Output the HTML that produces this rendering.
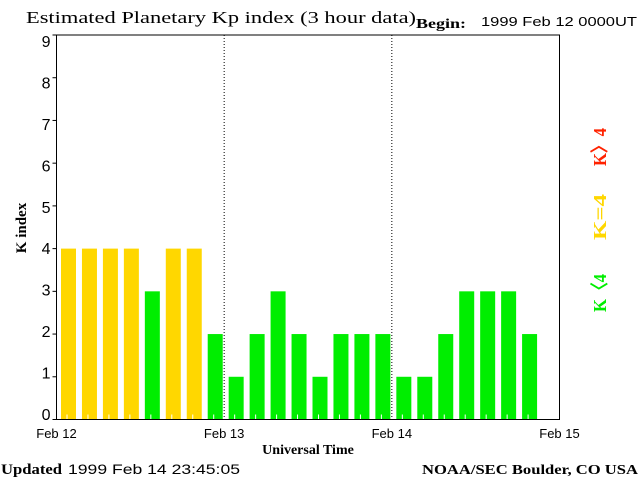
<!DOCTYPE html>
<html><head><meta charset="utf-8"><style>
body{margin:0;background:#fff;}
svg text{font-family:"Liberation Sans",sans-serif;}
.serif{font-family:"Liberation Serif",serif !important;}
</style></head><body>
<svg id="chart" width="640" height="480" xmlns="http://www.w3.org/2000/svg">
<text class="serif" x="26" y="23" font-size="17" textLength="390" lengthAdjust="spacingAndGlyphs" fill="#000">Estimated Planetary Kp index (3 hour data)</text>
<text class="serif" x="416" y="28" font-size="14" font-weight="bold" textLength="50" lengthAdjust="spacingAndGlyphs" fill="#000">Begin:</text>
<text x="481" y="26" font-size="13" textLength="156" lengthAdjust="spacingAndGlyphs" fill="#000">1999 Feb 12 0000UT</text>
<g id="bars"></g>
<g id="axes"></g>
<text class="serif" transform="translate(26,228) rotate(-90)" text-anchor="middle" font-size="15" font-weight="bold" fill="#000">K index</text>
<text class="serif" x="308" y="454" text-anchor="middle" font-size="14" font-weight="bold" fill="#000">Universal Time</text>
<text class="serif" transform="translate(606,147) rotate(-90)" text-anchor="middle" font-size="18" font-weight="bold" textLength="38" lengthAdjust="spacingAndGlyphs" fill="#ff2200">K〉4</text>
<text class="serif" transform="translate(606,217) rotate(-90)" text-anchor="middle" font-size="18" font-weight="bold" textLength="46" lengthAdjust="spacingAndGlyphs" fill="#ffd700">K=4</text>
<text class="serif" transform="translate(606,293) rotate(-90)" text-anchor="middle" font-size="18" font-weight="bold" textLength="38" lengthAdjust="spacingAndGlyphs" fill="#00ee00">K〈4</text>
<text class="serif" x="1" y="474" font-size="15" font-weight="bold" textLength="61" lengthAdjust="spacingAndGlyphs" fill="#000">Updated</text>
<text x="68" y="474" font-size="14" textLength="172" lengthAdjust="spacingAndGlyphs" fill="#000">1999 Feb 14 23:45:05</text>
<text class="serif" x="422" y="474" font-size="14" font-weight="bold" textLength="216" lengthAdjust="spacingAndGlyphs" fill="#000">NOAA/SEC Boulder, CO USA</text>
</svg>
<script>
const kpValues = [4,4,4,4,3,4,4,2, 1,2,3,2,1,2,2,2, 1,1,2,3,3,3,2];
const yTicks = [0,1,2,3,4,5,6,7,8,9];
const dayLabels = ["Feb 12","Feb 13","Feb 14","Feb 15"];
const NS="http://www.w3.org/2000/svg";
const L=56.5,R=559.5,T=35,B=419.5,slots=24;
const x=i=>L+(R-L)*i/slots;
const y=v=>B-(B-T)*v/9;
function mk(tag,attrs,parent){const e=document.createElementNS(NS,tag);for(const k in attrs)e.setAttribute(k,attrs[k]);parent.appendChild(e);return e;}
const bars=document.getElementById('bars'),axes=document.getElementById('axes');
kpValues.forEach((v,i)=>{
  const c=v>4?'#ff2200':(v==4?'#ffd700':'#00ee00');
  const r=mk('rect',{x:x(i)+4.5,y:y(v),width:15,height:B-y(v),fill:c},bars);
  
  
  const t=mk('line',{x1:x(i)+10.5,x2:x(i)+10.5,y1:B-5,y2:B,stroke:'#fff','stroke-width':1},bars);
  
  
});
[1,2].forEach(d=>{
  const l=mk('line',{x1:x(d*8),x2:x(d*8),y1:T,y2:B,stroke:'#000','stroke-dasharray':'1,2'},axes);
  
  
});
const fr=mk('rect',{x:L,y:T,width:R-L,height:B-T,fill:'none',stroke:'#000'},axes);


yTicks.forEach(v=>{
  mk('line',{x1:L-4,x2:L,y1:y(v),y2:y(v),stroke:'#000'},axes);
  const t=mk('text',{x:L-6,y:420-v*41.44,'text-anchor':'end','font-size':16,fill:'#000'},axes);
  t.textContent=v;
  
  
});
dayLabels.forEach((s,d)=>{
  const t=mk('text',{x:x(d*8),y:438,'text-anchor':'middle','font-size':13,fill:'#000'},axes);
  t.textContent=s;
  
  
});
</script>
</body></html>
